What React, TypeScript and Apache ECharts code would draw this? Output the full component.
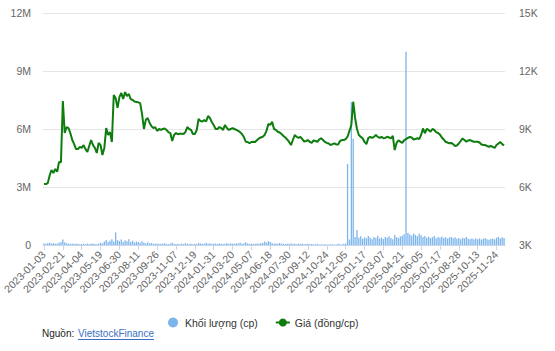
import React, { useEffect, useRef } from "react";
import * as echarts from "echarts";

const tickLabels = [
  "2023-01-03", "2023-02-21", "2023-04-04", "2023-05-19", "2023-06-30", "2023-08-11", "2023-09-26",
  "2023-11-07", "2023-12-19", "2024-01-31", "2024-03-20", "2024-05-07", "2024-06-18", "2024-07-30",
  "2024-09-12", "2024-10-24", "2024-12-05", "2025-01-17", "2025-03-07", "2025-04-21", "2025-06-05",
  "2025-07-17", "2025-08-28", "2025-10-13", "2025-11-24",
];

// Price (đồng/cp), one point every 3 trading days
const priceValues = [
  6150, 6150, 6200, 6600, 6880, 6720, 6930, 6790, 7300, 7280,
  10450, 8790, 9100, 9050, 8780, 8430, 8220, 7960, 7960, 8070,
  8020, 8170, 7960, 7810, 8120, 8430, 8170, 8020, 7760, 8280,
  8170, 7650, 8020, 9050, 8690, 8840, 8330, 10760, 10600, 10090,
  10650, 10860, 10550, 10910, 10700, 10810, 10550, 10500, 10420, 10400,
  10380, 10340, 9780, 9000, 9470, 9570, 9310, 9150, 9050, 9100,
  8900, 9000, 8950, 9000, 9030, 8950, 8840, 8790, 8380, 8690,
  8790, 8730, 8760, 8760, 8740, 8840, 9100, 9000, 8950, 8740,
  8740, 8950, 9520, 9410, 9390, 9470, 9390, 9670, 9570, 9360,
  9210, 9000, 9000, 9100, 9050, 8950, 9210, 9050, 8950, 9000,
  9040, 9000, 8950, 8900, 8840, 8740, 8590, 8340, 8330, 8260,
  8330, 8340, 8330, 8430, 8510, 8560, 8600, 8690, 8900, 9260,
  9210, 9380, 9000, 8950, 8860, 8820, 8740, 8640, 8560, 8460,
  8330, 8170, 8430, 8690, 8590, 8540, 8590, 8480, 8350, 8380,
  8430, 8330, 8280, 8410, 8380, 8340, 8460, 8520, 8430, 8330,
  8280, 8250, 8170, 8220, 8260, 8200, 8200, 8380, 8430, 8430,
  8480, 8600, 8900, 9210, 10410, 9570, 9000, 8690, 8590, 8520,
  8330, 8220, 8530, 8590, 8540, 8590, 8690, 8590, 8540, 8590,
  8520, 8540, 8600, 8560, 8520, 8640, 7910, 8280, 8410, 8350,
  8280, 8410, 8480, 8540, 8590, 8560, 8460, 8480, 8520, 8480,
  8690, 9030, 8780, 9000, 8950, 8860, 9000, 8950, 8840, 8790,
  8710, 8560, 8460, 8340, 8300, 8260, 8280, 8220, 8120, 8150,
  8250, 8380, 8510, 8430, 8340, 8410, 8430, 8380, 8340, 8340,
  8340, 8300, 8200, 8170, 8170, 8120, 8080, 8120, 8070, 8020,
  8170, 8250, 8330, 8220, 8150,
];

// Volume (thousand cp), same sampling
const volumeThousands = [
  80, 60, 90, 120, 70, 100, 60, 80, 110, 150,
  280, 140, 90, 70, 60, 80, 50, 60, 70, 40,
  50, 60, 40, 70, 50, 60, 80, 50, 40, 60,
  120, 90, 180, 260, 150, 220, 300, 180, 650, 250,
  200, 280, 160, 240, 190, 300, 150, 220, 130, 180,
  160, 120, 200, 110, 90, 140, 80, 100, 70, 60,
  80, 50, 70, 60, 90, 50, 40, 60, 120, 70,
  50, 60, 40, 70, 50, 90, 60, 50, 70, 40,
  60, 50, 110, 80, 60, 70, 120, 60, 90, 50,
  60, 70, 50, 80, 60, 50, 70, 90, 60, 80,
  70, 60, 90, 80, 110, 70, 90, 140, 80, 60,
  70, 50, 60, 80, 70, 90, 100, 180, 120, 200,
  150, 90, 70, 80, 60, 100, 70, 60, 50, 70,
  60, 80, 50, 60, 40, 70, 50, 60, 40, 50,
  60, 40, 50, 30, 40, 50, 30, 40, 30, 40,
  30, 20, 40, 30, 20, 30, 70, 40, 30, 60,
  80, 4200, 280, 7400, 5500, 420, 780, 380, 450, 320,
  400, 350, 460, 380, 300, 420, 360, 480, 340, 390,
  310, 420, 380, 450, 360, 300, 520, 400, 360, 440,
  480, 560, 10000, 620, 540, 480, 600, 520, 450, 580,
  500, 420, 460, 380, 430, 360, 400, 470, 350, 420,
  380, 440, 360, 410, 330, 390, 420, 350, 400, 320,
  360, 300, 380, 340, 410, 320, 300, 350, 280, 330,
  300, 340, 280, 320, 360, 300, 270, 310, 340, 290,
  380, 420, 330, 400, 360,
];

const categories = priceValues.map((_, i) => String(i));
const LABEL_STEP = 10;
const FONT = "'Liberation Sans', Arial, sans-serif";

export default function App() {
  const ref = useRef<HTMLDivElement>(null);
  useEffect(() => {
    if (!ref.current) return;
    const chart = echarts.init(ref.current, undefined, { renderer: "svg" });
    chart.setOption({
      animation: false,
      backgroundColor: "#ffffff",
      textStyle: { fontFamily: FONT },
      grid: { left: 43, right: 50, top: 13, bottom: 106, containLabel: false },
      legend: {
        left: 163,
        top: 312,
        itemGap: 17,
        itemWidth: 14,
        itemHeight: 10,
        textStyle: { fontSize: 10.5, color: "#333", fontFamily: FONT },
        data: [
          { name: "Khối lượng (cp)", icon: "circle" },
          { name: "Giá (đồng/cp)" },
        ],
      },
      xAxis: {
        type: "category",
        data: categories,
        boundaryGap: true,
        axisLine: { lineStyle: { color: "#ccd6eb" } },
        axisTick: { show: true, interval: LABEL_STEP - 1, alignWithLabel: true, length: 5, lineStyle: { color: "#ccd6eb" } },
        axisLabel: {
          interval: LABEL_STEP - 1,
          rotate: 45,
          margin: 8,
          fontSize: 10.5,
          color: "#666",
          fontFamily: FONT,
          formatter: (_v: string, idx: number) => (idx % LABEL_STEP === 0 ? tickLabels[idx / LABEL_STEP] ?? "" : ""),
        },
        splitLine: { show: false },
      },
      yAxis: [
        {
          type: "value",
          min: 0,
          max: 12000000,
          interval: 3000000,
          position: "left",
          axisLine: { show: false },
          axisTick: { show: false },
          splitLine: { lineStyle: { color: "#e6e6e6" } },
          axisLabel: {
            margin: 12,
            fontSize: 10.5,
            color: "#666",
            fontFamily: FONT,
            formatter: (v: number) => (v === 0 ? "0" : v / 1000000 + "M"),
          },
        },
        {
          type: "value",
          min: 3000,
          max: 15000,
          interval: 3000,
          position: "right",
          axisLine: { show: false },
          axisTick: { show: false },
          splitLine: { show: false },
          axisLabel: {
            margin: 14,
            fontSize: 10.5,
            color: "#666",
            fontFamily: FONT,
            formatter: (v: number) => v / 1000 + "K",
          },
        },
      ],
      series: [
        {
          name: "Khối lượng (cp)",
          type: "bar",
          yAxisIndex: 0,
          data: volumeThousands.map((v) => v * 1000),
          barWidth: 1.3,
          itemStyle: { color: "#7cb5ec" },
        },
        {
          name: "Giá (đồng/cp)",
          type: "line",
          yAxisIndex: 1,
          data: priceValues,
          symbol: "circle",
          symbolSize: 8,
          showSymbol: false,
          lineStyle: { color: "#0e7d0e", width: 2 },
          itemStyle: { color: "#0e7d0e" },
        },
      ],
      graphic: [
        {
          type: "text",
          left: 42,
          top: 328,
          style: { text: "Nguồn: ", fontSize: 10, fill: "#222", fontFamily: FONT },
        },
        {
          type: "text",
          left: 78,
          top: 328,
          style: { text: "VietstockFinance", fontSize: 10, fill: "#3b6fc4", fontFamily: FONT },
        },
        {
          type: "line",
          shape: { x1: 78, y1: 339.5, x2: 154, y2: 339.5 },
          style: { stroke: "#3b6fc4", lineWidth: 1 },
        },
      ],
    });
    return () => chart.dispose();
  }, []);
  return <div ref={ref} style={{ position: "fixed", left: 0, top: 0, width: 555, height: 351 }} />;
}
